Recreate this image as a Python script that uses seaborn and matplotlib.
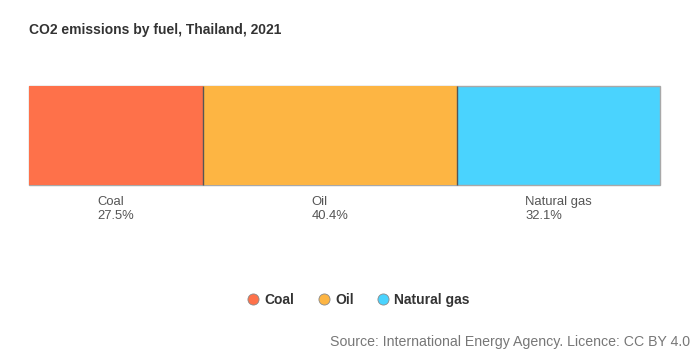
import matplotlib
matplotlib.use("Agg")
import matplotlib.pyplot as plt
from matplotlib.lines import Line2D
import seaborn as sns
import pandas as pd
import numpy as np

fuels = ["Coal", "Oil", "Natural gas"]
shares = [27.5, 40.4, 32.1]
colors = ["#FE714A", "#FDB543", "#4AD3FE"]
title = "CO2 emissions by fuel, Thailand, 2021"
source = "Source: International Energy Agency. Licence: CC BY 4.0"

sns.set_theme(style="white")
plt.rcParams["font.family"] = ["Liberation Sans", "DejaVu Sans"]

W, H = 700, 355
fig = plt.figure(figsize=(W / 100, H / 100), dpi=100)
fig.patch.set_facecolor("white")

# axes spans exactly the stacked bar
ax = fig.add_axes([29 / W, 1 - 185 / H, 631 / W, 99 / H])

ends = np.cumsum(shares)
starts = ends - np.array(shares)
df = pd.DataFrame({"fuel": fuels, "end": ends, "row": ["all"] * len(fuels)})

# draw cumulative totals from largest to smallest so each segment stays visible
draw_order = fuels[::-1]
palette = dict(zip(fuels, colors))
sns.barplot(data=df, x="end", y="row", hue="fuel", hue_order=draw_order,
            palette=palette, dodge=False, orient="h", width=1.0,
            saturation=1, edgecolor="none", linewidth=0, legend=False, ax=ax)
for p in ax.patches:
    p.set_clip_on(False)
# light outer frame around the whole bar
ax.patches[0].set_edgecolor("#a8a8a8")
ax.patches[0].set_linewidth(1.0)

# darker separators between segments
ax.vlines(ends[:-1], -0.5, 0.5, colors="#555555", linewidth=1.0, clip_on=False, zorder=5)

ax.set_xlim(0, ends[-1])
ax.set_ylim(0.5, -0.5)
ax.set_xlabel("")
ax.set_ylabel("")
ax.set_xticks([])
ax.set_yticks([])
for s in ax.spines.values():
    s.set_visible(False)

for f, s0, v in zip(fuels, starts, shares):
    ax.annotate(f"{f}\n{v:.1f}%", xy=(s0 + v / 2, 0), xycoords=("data", "axes fraction"),
                xytext=(0, -8), textcoords="offset points", ha="center", va="top",
                multialignment="left", fontsize=9.4, color="#555555", linespacing=1.2)

fig.text(29 / W, 1 - 30 / H, title, fontsize=10, fontweight="bold",
         color="#333333", ha="left", va="center")

handles = [Line2D([0], [0], marker="o", linestyle="", markersize=8,
                  markerfacecolor=c, markeredgecolor="#8a8a8a", markeredgewidth=0.6)
           for c in colors]
leg = fig.legend(handles, fuels, loc="center", bbox_to_anchor=(358 / W, 1 - 300 / H),
                 ncol=3, frameon=False, handlelength=1.0, handletextpad=0.3,
                 columnspacing=1.65, prop={"weight": "bold", "size": 10})
for t in leg.get_texts():
    t.set_color("#333333")

fig.text(690 / W, 1 - 342 / H, source, fontsize=10.2, color="#777777",
         ha="right", va="center")

fig.savefig("out.png", dpi=100, facecolor="white")
